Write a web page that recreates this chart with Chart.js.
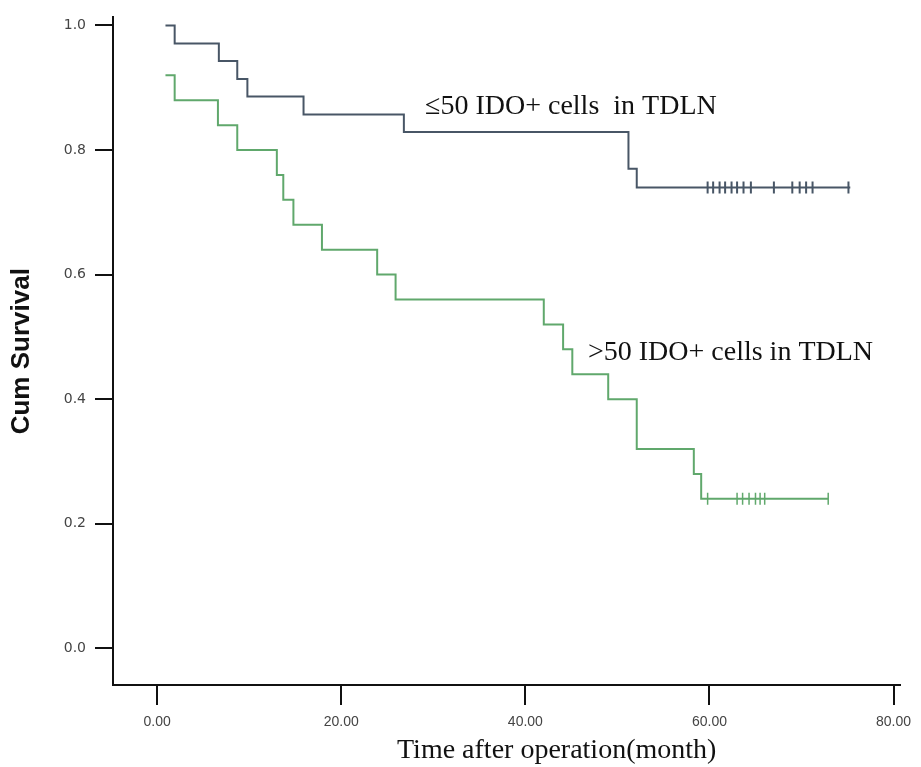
<!DOCTYPE html>
<html>
<head>
<meta charset="utf-8">
<script src="https://cdn.jsdelivr.net/npm/chart.js@4.4.1/dist/chart.umd.min.js"></script>
<style>
  html, body { margin: 0; padding: 0; background: #fff; }
  #wrap { width: 921px; height: 767px; }
</style>
</head>
<body>
<div id="wrap"><canvas id="kmChart" width="921" height="767"></canvas></div>
<script>
// survival curves (time in months, cumulative survival after each step)
const lowTimes = [0.9, 1.9, 6.7, 8.7, 9.8, 15.9, 26.8, 51.2, 52.1, 75.3];
const lowSurv = [1.0, 0.971, 0.943, 0.914, 0.886, 0.857, 0.829, 0.77, 0.74, 0.74];
const lowCensor = [59.8, 60.4, 61.1, 61.7, 62.4, 63.0, 63.7, 64.5, 67.0, 69.0, 69.8, 70.5, 71.2, 75.1];

const highTimes = [0.9, 1.9, 6.6, 8.7, 13.0, 13.7, 14.8, 17.9, 23.9, 25.9, 42.0, 44.1, 45.1, 49.0, 52.1, 58.3, 59.1, 72.9];
const highSurv = [0.92, 0.88, 0.84, 0.80, 0.76, 0.72, 0.68, 0.64, 0.60, 0.56, 0.52, 0.48, 0.44, 0.40, 0.32, 0.28, 0.24, 0.24];
const highCensor = [59.8, 63.0, 63.6, 64.3, 65.0, 65.5, 66.0, 72.9];

const xTicks = [0, 20, 40, 60, 80];
const yTicks = [0, 0.2, 0.4, 0.6, 0.8, 1.0];

const lowLabel = "\u226450 IDO+ cells  in TDLN";
const highLabel = ">50 IDO+ cells in TDLN";
const xTitle = "Time after operation(month)";

const lowColor = "rgb(72, 86, 102)";
const highColor = "rgb(96, 168, 108)";

function toPoints(ts, ss) {
  return ts.map((t, i) => ({ x: t, y: ss[i] }));
}

// survival level at a censor time
function levelAt(ts, ss, t) {
  let v = ss[0];
  for (let i = 0; i < ts.length; i++) {
    if (ts[i] <= t) v = ss[i];
  }
  return v;
}

function censorPoints(ts, ss, cs) {
  return cs.map((c) => ({ x: c, y: levelAt(ts, ss, c) }));
}

// curve labels, anchored in data units
const curveLabels = [
  { text: lowLabel, x: 29.1, y: 0.87 },
  { text: highLabel, x: 46.8, y: 0.474 },
];

const serif = '"Liberation Serif", "Times New Roman", serif';

const labelPlugin = {
  id: "curveLabels",
  afterDatasetsDraw(chart) {
    const ctx = chart.ctx;
    const xs = chart.scales.x;
    const ys = chart.scales.y;
    ctx.save();
    ctx.font = "28px " + serif;
    ctx.fillStyle = "#111";
    ctx.textBaseline = "middle";
    ctx.textAlign = "left";
    curveLabels.forEach((l) => {
      ctx.fillText(l.text, xs.getPixelForValue(l.x), ys.getPixelForValue(l.y));
    });
    // x axis title, centred a bit right of the axis middle like the original
    ctx.textAlign = "center";
    ctx.fillText(xTitle, xs.getPixelForValue(43.4), chart.height - 16);
    ctx.restore();
  },
};

new Chart(document.getElementById("kmChart").getContext("2d"), {
  type: "line",
  data: {
    datasets: [
      {
        data: toPoints(lowTimes, lowSurv),
        borderColor: lowColor,
        borderWidth: 2,
        stepped: "before",
        pointRadius: 0,
        fill: false,
      },
      {
        data: toPoints(highTimes, highSurv),
        borderColor: highColor,
        borderWidth: 2,
        stepped: "before",
        pointRadius: 0,
        fill: false,
      },
      {
        data: censorPoints(lowTimes, lowSurv, lowCensor),
        showLine: false,
        pointStyle: "line",
        rotation: 90,
        pointRadius: 6,
        borderColor: lowColor,
        borderWidth: 2,
      },
      {
        data: censorPoints(highTimes, highSurv, highCensor),
        showLine: false,
        pointStyle: "line",
        rotation: 90,
        pointRadius: 6,
        borderColor: highColor,
        borderWidth: 1.5,
      },
    ],
  },
  options: {
    responsive: false,
    animation: false,
    layout: { padding: { left: 0, right: 21, top: 15, bottom: 0 } },
    plugins: { legend: { display: false }, tooltip: { enabled: false } },
    scales: {
      x: {
        type: "linear",
        min: -4.8,
        max: 80.7,
        afterBuildTicks: (scale) => {
          scale.ticks = xTicks.map((v) => ({ value: v }));
        },
        afterFit: (scale) => {
          scale.height = 82;
        },
        grid: {
          drawOnChartArea: false,
          drawTicks: true,
          tickLength: 20,
          color: "#111",
          lineWidth: 2,
        },
        border: { display: true, color: "#111", width: 2 },
        ticks: {
          font: { family: '"Liberation Sans", Arial, sans-serif', size: 14 },
          color: "#444",
          padding: 9,
          maxRotation: 0,
          callback: (v) => v.toFixed(2),
        },
        title: { display: false },
      },
      y: {
        type: "linear",
        min: -0.059,
        max: 1.013,
        afterBuildTicks: (scale) => {
          scale.ticks = yTicks.map((v) => ({ value: v }));
        },
        afterFit: (scale) => {
          scale.width = 113;
        },
        grid: {
          drawOnChartArea: false,
          drawTicks: true,
          tickLength: 18,
          color: "#111",
          lineWidth: 2,
        },
        border: { display: true, color: "#111", width: 2 },
        ticks: {
          font: { family: '"DejaVu Sans", sans-serif', size: 14 },
          color: "#444",
          padding: 9,
          callback: (v) => v.toFixed(1),
        },
        title: {
          display: true,
          text: "Cum Survival",
          color: "#111",
          font: { family: '"Liberation Sans", Arial, sans-serif', size: 26, weight: "bold", lineHeight: 1.2 },
          padding: { top: 6, bottom: 0 },
        },
      },
    },
  },
  plugins: [labelPlugin],
});
</script>
</body>
</html>
